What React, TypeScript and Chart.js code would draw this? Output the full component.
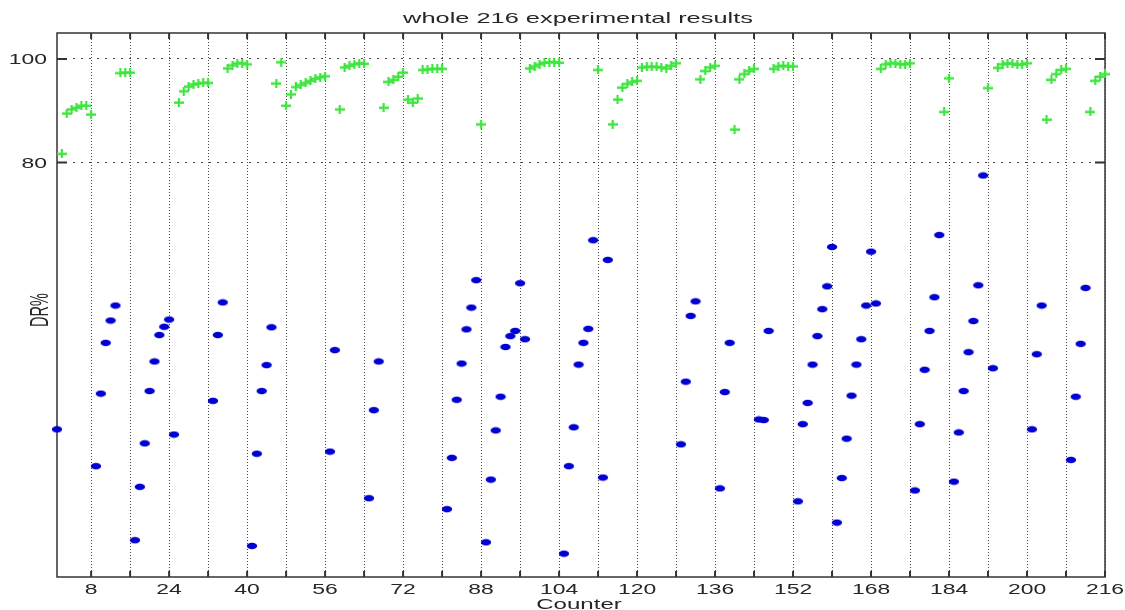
import React, { useEffect, useRef } from "react";
import { Chart, registerables } from "chart.js";

Chart.register(...registerables);

// Counters (experiment index) whose detection rate stays above 80 %, and their DR% values
const greenCounters = [
  2, 3, 4, 5, 6, 7, 8, 14, 15, 16, 26, 27, 28, 29, 30, 31, 32, 36, 37, 38, 39, 40,
  46, 47, 48, 49, 50, 51, 52, 53, 54, 55, 56, 59, 60, 61, 62, 63, 64, 68, 69, 70,
  71, 72, 73, 74, 75, 76, 77, 78, 79, 80, 88, 98, 99, 100, 101, 102, 103, 104, 112,
  115, 116, 117, 118, 119, 120, 121, 122, 123, 124, 125, 126, 127, 128, 133, 134,
  135, 136, 140, 141, 142, 143, 144, 148, 149, 150, 151, 152, 170, 171, 172, 173,
  174, 175, 176, 183, 184, 192, 194, 195, 196, 197, 198, 199, 200, 204, 205, 206,
  207, 208, 213, 214, 215, 216,
];
const greenDR = [
  81.7, 89.5, 90.3, 90.6, 91.0, 91.0, 89.3, 97.3, 97.4, 97.4, 91.6, 93.8, 94.7, 95.1,
  95.3, 95.4, 95.4, 98.2, 98.8, 99.2, 99.2, 99.0, 95.3, 99.4, 91.0, 93.2, 94.6, 95.0,
  95.4, 95.8, 96.2, 96.5, 96.7, 90.3, 98.4, 98.7, 99.0, 99.2, 99.1, 90.6, 95.6, 96.0,
  96.6, 97.4, 92.2, 91.6, 92.4, 97.9, 98.0, 98.1, 98.1, 98.1, 87.4, 98.2, 98.6, 99.0,
  99.3, 99.4, 99.4, 99.3, 97.9, 87.4, 92.2, 94.5, 95.2, 95.6, 95.8, 98.4, 98.5, 98.5,
  98.5, 98.4, 98.2, 98.7, 99.2, 96.1, 97.7, 98.4, 98.7, 86.4, 96.1, 97.1, 97.7, 98.1,
  98.1, 98.6, 98.7, 98.6, 98.6, 98.1, 99.0, 99.2, 99.2, 99.0, 99.0, 99.2, 89.8, 96.3,
  94.4, 98.3, 99.0, 99.2, 99.1, 98.9, 99.0, 99.2, 88.3, 96.0, 97.1, 97.9, 98.1, 89.8,
  95.8, 96.6, 97.1,
];

// Counters whose detection rate falls below 80 %, and their DR% values
const blueCounters = [
  1, 9, 10, 11, 12, 13, 17, 18, 19, 20, 21, 22, 23, 24, 25, 33, 34, 35, 41, 42, 43,
  44, 45, 57, 58, 65, 66, 67, 81, 82, 83, 84, 85, 86, 87, 89, 90, 91, 92, 93, 94, 95,
  96, 97, 105, 106, 107, 108, 109, 110, 111, 113, 114, 129, 130, 131, 132, 137, 138,
  139, 145, 146, 147, 153, 154, 155, 156, 157, 158, 159, 160, 161, 162, 163, 164,
  165, 166, 167, 168, 169, 177, 178, 179, 180, 181, 182, 185, 186, 187, 188, 189,
  190, 191, 193, 201, 202, 203, 209, 210, 211, 212,
];
const blueDR = [
  28.5, 21.4, 35.4, 45.2, 49.5, 52.4, 7.1, 17.4, 25.8, 35.9, 41.6, 46.7, 48.3, 49.7,
  27.5, 34.0, 46.7, 53.0, 6.0, 23.8, 35.9, 40.9, 48.2, 24.2, 43.8, 15.2, 32.2, 41.6,
  13.1, 23.0, 34.2, 41.2, 47.8, 52.0, 57.3, 6.7, 18.8, 28.3, 34.8, 44.4, 46.5, 47.5,
  56.7, 45.9, 4.5, 21.4, 28.9, 41.0, 45.2, 47.9, 65.0, 19.2, 61.2, 25.6, 37.7, 50.4,
  53.2, 17.1, 35.7, 45.2, 30.4, 30.3, 47.5, 14.6, 29.5, 33.6, 41.0, 46.5, 51.7, 56.1,
  63.7, 10.5, 19.1, 26.7, 35.0, 41.0, 45.9, 52.4, 62.8, 52.8, 16.7, 29.5, 40.0, 47.5,
  54.0, 66.0, 18.4, 27.9, 35.9, 43.4, 49.4, 56.3, 77.5, 40.3, 28.5, 43.0, 52.4, 22.6,
  34.8, 45.0, 55.8,
];

// Axis ticks
const xGridTicks = [
  8, 16, 24, 32, 40, 48, 56, 64, 72, 80, 88, 96, 104, 112, 120, 128, 136, 144, 152,
  160, 168, 176, 184, 192, 200, 208, 216,
];
const xLabelTicks = [8, 24, 40, 56, 72, 88, 104, 120, 136, 152, 168, 184, 200, 216];
const yTicks = [80, 100];

const titleText = "whole 216 experimental results";
const xTitle = "Counter";
const yTitle = "DR%";

const FONT = '14.5px "Liberation Sans", Arial, sans-serif';
const INK = "#262626";

function crossMarker(): HTMLCanvasElement {
  const c = document.createElement("canvas");
  c.width = 10;
  c.height = 9;
  const g = c.getContext("2d")!;
  g.fillStyle = "rgb(64,228,64)";
  g.fillRect(0, 3.5, 10, 2.4);
  g.fillRect(3.9, 0, 2.2, 9);
  return c;
}

function dotMarker(): HTMLCanvasElement {
  const c = document.createElement("canvas");
  c.width = 12;
  c.height = 8;
  const g = c.getContext("2d")!;
  g.fillStyle = "rgb(0,0,210)";
  g.beginPath();
  g.ellipse(6, 4, 5.2, 3.3, 0, 0, Math.PI * 2);
  g.fill();
  return c;
}

function stretchedText(
  ctx: CanvasRenderingContext2D,
  text: string,
  x: number,
  y: number,
  sx: number,
  align: CanvasTextAlign
) {
  ctx.save();
  ctx.translate(x, y);
  ctx.scale(sx, 1);
  ctx.textAlign = align;
  ctx.textBaseline = "alphabetic";
  ctx.fillText(text, 0, 0);
  ctx.restore();
}

// Box frame with inward tick marks, plus the stretched labels
const framePlugin = {
  id: "boxFrame",
  beforeDatasetsDraw(chart: any) {
    const { ctx, chartArea: a, scales } = chart;
    ctx.save();
    ctx.strokeStyle = "#333";
    ctx.lineWidth = 1.5;
    ctx.strokeRect(a.left, a.top, a.right - a.left, a.bottom - a.top);
    ctx.lineWidth = 2;
    ctx.beginPath();
    for (const v of xGridTicks) {
      const px = scales.x.getPixelForValue(v);
      ctx.moveTo(px, a.bottom);
      ctx.lineTo(px, a.bottom - 6);
      ctx.moveTo(px, a.top);
      ctx.lineTo(px, a.top + 6);
    }
    for (const v of yTicks) {
      const py = scales.y.getPixelForValue(v);
      ctx.moveTo(a.left, py);
      ctx.lineTo(a.left + 10, py);
      ctx.moveTo(a.right, py);
      ctx.lineTo(a.right - 10, py);
    }
    ctx.stroke();
    ctx.restore();
  },
  afterDraw(chart: any) {
    const { ctx, chartArea: a, scales } = chart;
    ctx.save();
    ctx.font = FONT;
    ctx.fillStyle = INK;
    for (const v of xLabelTicks) {
      stretchedText(ctx, String(v), scales.x.getPixelForValue(v), a.bottom + 17, 1.58, "center");
    }
    for (const v of yTicks) {
      stretchedText(ctx, String(v), a.left - 10, scales.y.getPixelForValue(v) + 5.5, 1.58, "right");
    }
    const cx = (a.left + a.right) / 2;
    stretchedText(ctx, titleText, cx - 3, a.top - 10, 1.75, "center");
    stretchedText(ctx, xTitle, cx - 2, a.bottom + 31.5, 1.66, "center");
    // rotated y title, widened across the page
    ctx.save();
    ctx.translate(a.left - 9, (a.top + a.bottom) / 2 + 5);
    ctx.scale(1.8, 1);
    ctx.rotate(-Math.PI / 2);
    ctx.textAlign = "center";
    ctx.textBaseline = "alphabetic";
    ctx.fillText(yTitle, 0, 0);
    ctx.restore();
    ctx.restore();
  },
};

export default function App() {
  const ref = useRef<HTMLCanvasElement | null>(null);

  useEffect(() => {
    if (!ref.current) return;
    const chart = new Chart(ref.current, {
      type: "scatter",
      data: {
        datasets: [
          {
            label: "DR% above 80",
            data: greenCounters.map((c, i) => ({ x: c, y: greenDR[i] })),
            pointStyle: crossMarker(),
            pointRadius: 5,
            showLine: false,
            clip: false as any,
          },
          {
            label: "DR% below 80",
            data: blueCounters.map((c, i) => ({ x: c, y: blueDR[i] })),
            pointStyle: dotMarker(),
            pointRadius: 5,
            showLine: false,
            clip: false as any,
          },
        ],
      },
      options: {
        responsive: false,
        animation: false,
        events: [],
        layout: {
          padding: { left: 57, right: 20, top: 33, bottom: 33 },
          autoPadding: false,
        } as any,
        plugins: {
          legend: { display: false },
          tooltip: { enabled: false },
          title: { display: false },
        },
        scales: {
          x: {
            type: "linear",
            min: 1,
            max: 216,
            afterBuildTicks: (scale: any) => {
              scale.ticks = xGridTicks.map((v) => ({ value: v }));
            },
            ticks: { display: false },
            grid: { color: "#4a4a4a", lineWidth: 1, drawTicks: false, tickLength: 0 },
            border: { display: false, dash: [1, 2] },
          },
          y: {
            type: "linear",
            min: 0,
            max: 105,
            afterBuildTicks: (scale: any) => {
              scale.ticks = yTicks.map((v) => ({ value: v }));
            },
            ticks: { display: false },
            grid: { color: "#4a4a4a", lineWidth: 1, drawTicks: false, tickLength: 0 },
            border: { display: false, dash: [2, 6] },
          },
        },
      },
      plugins: [framePlugin],
    });
    return () => chart.destroy();
  }, []);

  return (
    <div
      style={{
        position: "fixed",
        left: 0,
        top: 0,
        width: 1125,
        height: 610,
        background: "#fff",
      }}
    >
      <canvas ref={ref} width={1125} height={610} style={{ display: "block" }} />
    </div>
  );
}
